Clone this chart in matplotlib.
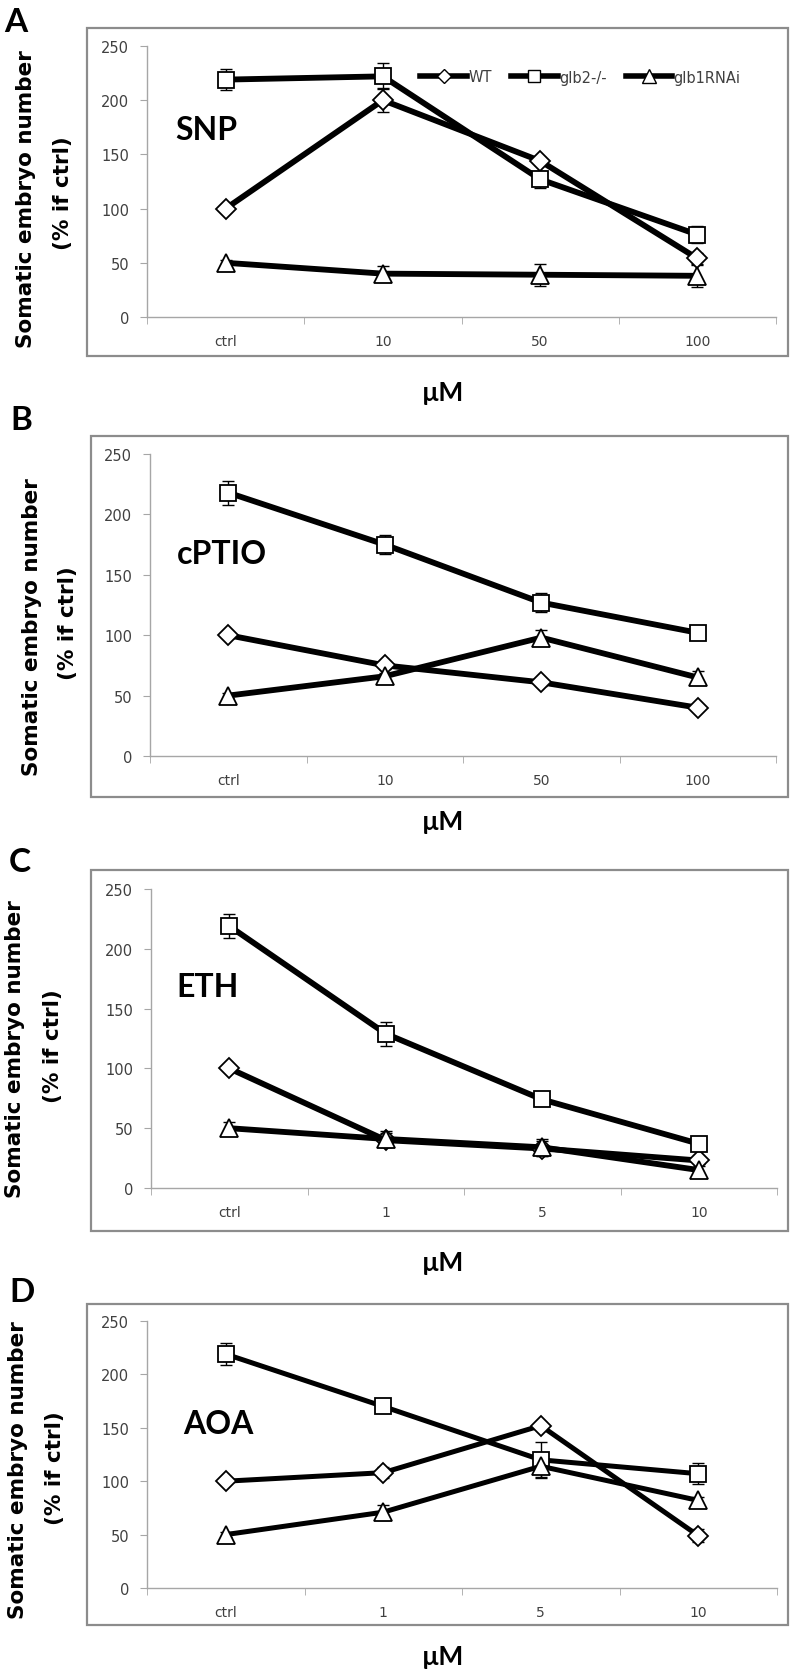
import matplotlib
matplotlib.use("Agg")
import matplotlib.pyplot as plt
from matplotlib.lines import Line2D
from matplotlib.patches import Rectangle


# concentrations on the x axis
conc_uM_high = ["ctrl", "10", "50", "100"]
conc_uM_low = ["ctrl", "1", "5", "10"]

series_names = ["WT", "glb2-/-", "glb1RNAi"]

# A: SNP
snp_wt = [100, 200, 144, 54]
snp_wt_err = [0, 11, 4, 5]
snp_glb2 = [219, 222, 127, 76]
snp_glb2_err = [10, 12, 8, 8]
snp_glb1 = [50, 40, 39, 38]
snp_glb1_err = [3, 7, 10, 10]

# B: cPTIO
cptio_wt = [100, 75, 61, 40]
cptio_wt_err = [2, 3, 3, 2]
cptio_glb2 = [218, 175, 127, 102]
cptio_glb2_err = [10, 8, 8, 4]
cptio_glb1 = [50, 66, 98, 65]
cptio_glb1_err = [2, 3, 6, 5]

# C: ETH
eth_wt = [100, 40, 33, 23]
eth_wt_err = [2, 6, 6, 3]
eth_glb2 = [219, 129, 74, 37]
eth_glb2_err = [10, 10, 3, 3]
eth_glb1 = [50, 41, 34, 15]
eth_glb1_err = [5, 7, 7, 3]

# D: AOA
aoa_wt = [100, 108, 152, 49]
aoa_wt_err = [2, 5, 3, 6]
aoa_glb2 = [219, 170, 120, 107]
aoa_glb2_err = [10, 3, 17, 10]
aoa_glb1 = [50, 71, 114, 82]
aoa_glb1_err = [2, 7, 10, 3]

W, H = 790, 1674
fig = plt.figure(figsize=(W / 100, H / 100), dpi=100)
fig.patch.set_facecolor("white")

BOLD = ["Lato", "DejaVu Sans"]
AXIS_GREY = "#a6a6a6"
TEXT_GREY = "#404040"

MARKERS = {"WT": ("D", 10), "glb2-/-": ("s", 12), "glb1RNAi": ("^", 13)}


def fx(x):
    return x / W


def fy(y):
    return 1 - y / H


def draw_panel(layout, cats, series, label, drug, lw):
    frame, axbox, letter_xy, drug_xy, ylab_xy, um_y = layout
    fl, ft, fr, fb = frame
    fig.add_artist(Rectangle((fx(fl), fy(fb)), (fr - fl) / W, (fb - ft) / H,
                             transform=fig.transFigure, fill=False,
                             edgecolor="#8c8c8c", lw=1.6))

    l, t, r, b = axbox
    ax = fig.add_axes([fx(l), fy(b), (r - l) / W, (b - t) / H])
    x = list(range(len(cats)))

    for name, vals, errs in series:
        mk, ms = MARKERS[name]
        ax.errorbar(x, vals, yerr=errs, fmt="none", ecolor="black",
                    elinewidth=1, capsize=4, capthick=1, zorder=2, clip_on=False)
        ax.plot(x, vals, color="black", lw=lw, marker=mk, ms=ms,
                mfc="white", mec="black", mew=1.3, zorder=3, clip_on=False,
                solid_joinstyle="round")

    ax.set_xlim(-0.5, len(cats) - 0.5)
    ax.set_ylim(0, 250)
    ax.set_yticks(range(0, 251, 50))
    ax.set_xticks(x)
    ax.set_xticklabels(cats)
    ax.set_xticks([i - 0.5 for i in range(len(cats) + 1)], minor=True)
    ax.tick_params(axis="x", which="major", length=0, pad=12,
                   labelsize=10, labelcolor=TEXT_GREY)
    ax.tick_params(axis="x", which="minor", length=5, color=AXIS_GREY, direction="out")
    ax.tick_params(axis="y", length=5, color=AXIS_GREY, direction="out", pad=8,
                   labelsize=10.5, labelcolor=TEXT_GREY)
    for s in ("top", "right"):
        ax.spines[s].set_visible(False)
    for s in ("left", "bottom"):
        ax.spines[s].set_color(AXIS_GREY)
        ax.spines[s].set_linewidth(1)
    ax.patch.set_alpha(0)

    fig.text(fx(letter_xy[0]), fy(letter_xy[1]), label, family=BOLD,
             weight="bold", fontsize=24, ha="center", va="center")
    fig.text(fx(drug_xy[0]), fy(drug_xy[1]), drug, family=BOLD,
             weight="bold", fontsize=23, ha="center", va="center")
    fig.text(fx(ylab_xy[0]), fy(ylab_xy[2]), "Somatic embryo number",
             weight="bold", fontsize=15.5, rotation=90, ha="center", va="center")
    fig.text(fx(ylab_xy[1]), fy(ylab_xy[3]), "(% if ctrl)",
             weight="bold", fontsize=15.5, rotation=90, ha="center", va="center")
    fig.text(fx(443), fy(um_y), "µM", family=BOLD, weight="bold",
             fontsize=19, ha="center", va="center")
    return ax


# frame, axes box, letter, drug label, ylabel (x1, x2, y1, y2), uM y
layouts = [
    ((87, 29, 788, 357), (147, 47, 776, 318), (16, 22), (206, 130),
     (26, 63, 199, 193), 393),
    ((91, 437, 788, 798), (150, 455, 776, 757), (21, 421), (222, 555),
     (32, 68, 627, 623), 822),
    ((91, 871, 788, 1232), (151, 890, 777, 1189), (20, 862), (208, 988),
     (15, 53, 1049, 1046), 1263),
    ((87, 1305, 788, 1626), (147, 1322, 777, 1589), (22, 1293), (218, 1425),
     (18, 55, 1470, 1468), 1657),
]

panels = [
    (conc_uM_high, [("WT", snp_wt, snp_wt_err), ("glb2-/-", snp_glb2, snp_glb2_err),
                    ("glb1RNAi", snp_glb1, snp_glb1_err)], "A", "SNP", 4.2),
    (conc_uM_high, [("WT", cptio_wt, cptio_wt_err), ("glb2-/-", cptio_glb2, cptio_glb2_err),
                    ("glb1RNAi", cptio_glb1, cptio_glb1_err)], "B", "cPTIO", 4.2),
    (conc_uM_low, [("WT", eth_wt, eth_wt_err), ("glb2-/-", eth_glb2, eth_glb2_err),
                   ("glb1RNAi", eth_glb1, eth_glb1_err)], "C", "ETH", 4.2),
    (conc_uM_low, [("WT", aoa_wt, aoa_wt_err), ("glb2-/-", aoa_glb2, aoa_glb2_err),
                   ("glb1RNAi", aoa_glb1, aoa_glb1_err)], "D", "AOA", 3.6),
]

axes = []
for layout, (cats, series, label, drug, lw) in zip(layouts, panels):
    axes.append(draw_panel(layout, cats, series, label, drug, lw))

# legend only in panel A
handles = []
for name in series_names:
    mk, ms = MARKERS[name]
    handles.append(Line2D([], [], color="black", lw=4, marker=mk, ms=ms * 0.75,
                          mfc="white", mec="black", mew=1))
leg = axes[0].legend(handles, series_names, loc="center left",
                     bbox_to_anchor=(fx(413), fy(78)), bbox_transform=fig.transFigure,
                     ncol=3, frameon=False, borderpad=0, handlelength=3.2,
                     handletextpad=0.1, columnspacing=1.3, fontsize=10.5)
for txt in leg.get_texts():
    txt.set_color(TEXT_GREY)

fig.savefig("out.png", dpi=100)
